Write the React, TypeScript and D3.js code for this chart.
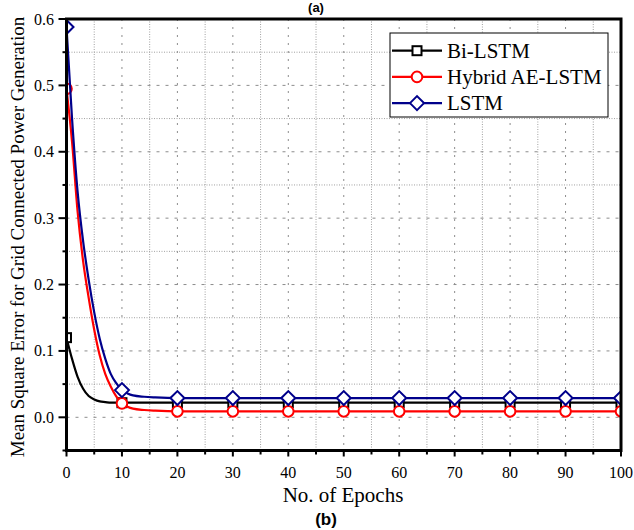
import React from "react";
import * as d3 from "d3";

const epochsBi = [0, 1, 2, 3, 4, 5, 6, 7, 8, 10, 20, 30, 40, 50, 60, 70, 80, 90, 100];
const biLstm = [0.12, 0.088, 0.061, 0.043, 0.032, 0.027, 0.024, 0.023, 0.022, 0.022, 0.022, 0.022, 0.022, 0.022, 0.022, 0.022, 0.022, 0.022, 0.022];

const epochsFull = [0, 1, 2, 3, 4, 5, 6, 7, 8, 9, 10, 11, 12, 14, 16, 20, 30, 40, 50, 60, 70, 80, 90, 100];
const hybrid = [0.495, 0.415, 0.31, 0.235, 0.18, 0.132, 0.093, 0.065, 0.046, 0.031, 0.021, 0.016, 0.013, 0.011, 0.01, 0.009, 0.009, 0.009, 0.009, 0.009, 0.009, 0.009, 0.009, 0.009];
const lstm = [0.588, 0.45, 0.34, 0.265, 0.207, 0.158, 0.118, 0.088, 0.065, 0.051, 0.041, 0.036, 0.033, 0.031, 0.03, 0.029, 0.029, 0.029, 0.029, 0.029, 0.029, 0.029, 0.029, 0.029];

const markerEpochs = [0, 10, 20, 30, 40, 50, 60, 70, 80, 90, 100];
const xTicks = [0, 10, 20, 30, 40, 50, 60, 70, 80, 90, 100];
const yTicks = [0.0, 0.1, 0.2, 0.3, 0.4, 0.5, 0.6];
const seriesNames = ["Bi-LSTM", "Hybrid AE-LSTM", "LSTM"];
const seriesColors = ["#000000", "#ff0000", "#00008b"];

const W = 634, H = 530;
const L = 66.5, R = 621, T = 19, B = 450.5;
const SERIF = "Liberation Serif, Times New Roman, DejaVu Serif, serif";
const SANS = "Liberation Sans, Arial, sans-serif";

export default function App() {
  const x = d3.scaleLinear().domain([0, 100]).range([L, R]);
  const y = d3.scaleLinear().domain([-0.05, 0.6]).range([B, T]);
  const line = d3.line<[number, number]>().x(d => x(d[0])).y(d => y(d[1])).curve(d3.curveMonotoneX);

  const series = [
    { name: seriesNames[0], color: seriesColors[0], xs: epochsBi, ys: biLstm, shape: "square" },
    { name: seriesNames[1], color: seriesColors[1], xs: epochsFull, ys: hybrid, shape: "circle" },
    { name: seriesNames[2], color: seriesColors[2], xs: epochsFull, ys: lstm, shape: "diamond" },
  ];

  const marker = (shape: string, cx: number, cy: number, color: string, key: any) => {
    if (shape === "square") return <rect key={key} x={cx - 4.5} y={cy - 4.5} width={9} height={9} fill="#fff" stroke={color} strokeWidth={2} />;
    if (shape === "circle") return <circle key={key} cx={cx} cy={cy} r={5.3} fill="#fff" stroke={color} strokeWidth={2} />;
    return <path key={key} d={`M${cx - 7},${cy} L${cx},${cy - 7} L${cx + 7},${cy} L${cx},${cy + 7} Z`} fill="#fff" stroke={color} strokeWidth={2} />;
  };

  const minorX = d3.range(0, 101, 5);
  const minorY = d3.range(-0.05, 0.6001, 0.05).map(v => Math.round(v * 100) / 100);
  const serif = { fontFamily: SERIF };
  const sans = { fontFamily: SANS, fontWeight: 700 as const };

  return (
    <svg width={W} height={H} style={{ position: "absolute", left: 0, top: 0, background: "#fff" }}>
      <defs>
        <clipPath id="plot"><rect x={L} y={T} width={R - L} height={B - T} /></clipPath>
      </defs>
      <rect x={0} y={0} width={W} height={H} fill="#fff" />
      {/* grid */}
      {minorX.map(v => {
        const major = v % 10 === 0;
        return <line key={"gx" + v} x1={x(v)} x2={x(v)} y1={T} y2={B} stroke={major ? "#8c8c8c" : "#a0a0a0"} strokeWidth={1} strokeDasharray={major ? "2,6" : "1,1.5"} />;
      })}
      {minorY.map(v => {
        const major = Math.abs(Math.round(v * 100)) % 10 === 0;
        return <line key={"gy" + v} x1={L} x2={R} y1={y(v)} y2={y(v)} stroke={major ? "#8c8c8c" : "#a0a0a0"} strokeWidth={1} strokeDasharray={major ? "3,6" : "1,1.5"} />;
      })}
      {/* series */}
      <g clipPath="url(#plot)">
        {series.map(s => {
          const pts: [number, number][] = s.xs.map((e, i) => [e, s.ys[i]]);
          return (
            <g key={s.name}>
              <path d={line(pts) || ""} fill="none" stroke={s.color} strokeWidth={2.2} />
              {markerEpochs.map(e => {
                const i = s.xs.indexOf(e);
                return marker(s.shape, x(e), y(s.ys[i]), s.color, s.name + e);
              })}
            </g>
          );
        })}
      </g>
      {/* frame */}
      <rect x={L} y={T} width={R - L} height={B - T} fill="none" stroke="#000" strokeWidth={3} />
      {/* y ticks */}
      {minorY.map(v => {
        const major = Math.abs(Math.round(v * 100)) % 10 === 0;
        return <line key={"ty" + v} x1={L - (major ? 8 : 4)} x2={L} y1={y(v)} y2={y(v)} stroke="#000" strokeWidth={2} />;
      })}
      {yTicks.map(v => (
        <text key={"ly" + v} x={54} y={y(v) + 5.5} textAnchor="end" fontSize={16} style={serif}>{v.toFixed(1)}</text>
      ))}
      {/* x ticks */}
      {minorX.map(v => {
        const major = v % 10 === 0;
        return <line key={"tx" + v} x1={x(v)} x2={x(v)} y1={B} y2={B + (major ? 6 : 4)} stroke="#000" strokeWidth={2} />;
      })}
      {xTicks.map(v => (
        <text key={"lx" + v} x={x(v)} y={478} textAnchor="middle" fontSize={16} style={serif}>{v}</text>
      ))}
      {/* axis titles */}
      <text x={343} y={502} textAnchor="middle" fontSize={21} style={serif}>No. of Epochs</text>
      <text transform="translate(24,237) rotate(-90)" textAnchor="middle" fontSize={19} style={serif}>Mean Square Error for Grid Connected Power Generation</text>
      <text x={326} y={525} textAnchor="middle" fontSize={17} style={sans}>(b)</text>
      <text x={316} y={12} textAnchor="middle" fontSize={13} style={sans}>(a)</text>
      {/* legend */}
      <rect x={390} y={33} width={218} height={84} fill="#fff" stroke="#000" strokeWidth={1} />
      {series.map((s, i) => {
        const cy = 50.7 + i * 26.2;
        return (
          <g key={"lg" + s.name}>
            <line x1={392} x2={442} y1={cy} y2={cy} stroke={s.color} strokeWidth={2.2} />
            {marker(s.shape, 417, cy, s.color, "lm" + i)}
            <text x={447} y={cy + 7} fontSize={21} style={serif}>{s.name}</text>
          </g>
        );
      })}
    </svg>
  );
}
